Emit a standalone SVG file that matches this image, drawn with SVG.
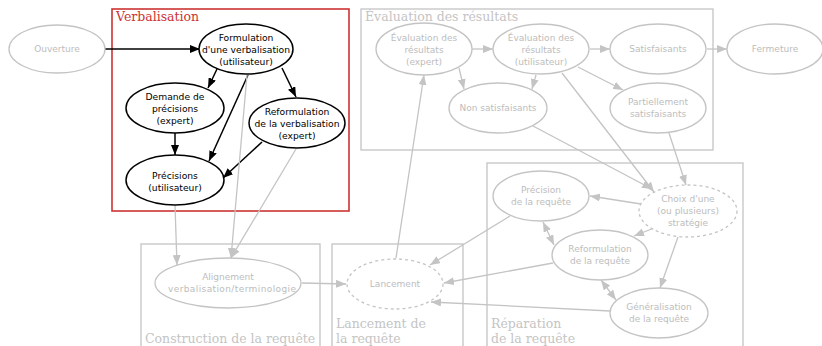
<svg xmlns="http://www.w3.org/2000/svg" width="822" height="346" viewBox="0 0 822 346">
<style>
.bg{fill:#ffffff}
.cl{fill:none;stroke:#c4c4c4;stroke-width:1.3}
.clr{fill:none;stroke:#cc3333;stroke-width:1.6}
.clt{font-family:"DejaVu Serif",serif;font-size:12.5px;fill:#c4c4c4}
.clrt{font-family:"DejaVu Serif",serif;font-size:12.5px;fill:#cc3333}
.nb ellipse{fill:#ffffff;stroke:#000000;stroke-width:1.5}
.nb text{font-family:"DejaVu Sans",sans-serif;font-size:9.2px;fill:#000000;text-anchor:middle}
.ng ellipse{fill:#ffffff;stroke:#c4c4c4;stroke-width:1.3}
.ng text{font-family:"DejaVu Sans",sans-serif;font-size:9px;fill:#bdbdbd;text-anchor:middle}
.dash ellipse{stroke-dasharray:3,3}
.eb{stroke:#000000;stroke-width:1.5;fill:none;marker-end:url(#ab)}
.eg{stroke:#c4c4c4;stroke-width:1.3;fill:none;marker-end:url(#ag)}
.eg2{stroke:#c4c4c4;stroke-width:1.3;fill:none;marker-end:url(#ag);marker-start:url(#ag)}
</style>
<defs>
<marker id="ab" markerUnits="userSpaceOnUse" markerWidth="10" markerHeight="8" refX="10" refY="4" orient="auto-start-reverse"><path d="M0,0 L10,4 L0,8 z" fill="#000000"/></marker>
<marker id="ag" markerUnits="userSpaceOnUse" markerWidth="10" markerHeight="8" refX="10" refY="4" orient="auto-start-reverse"><path d="M0,0 L10,4 L0,8 z" fill="#c4c4c4"/></marker>
</defs>
<rect class="bg" x="0" y="0" width="822" height="346"/>
<g id="clusters">
<rect class="clr" x="112" y="9" width="237" height="202"/>
<text class="clrt" x="116" y="21">Verbalisation</text>
<rect class="cl" x="361" y="9" width="352" height="141"/>
<text class="clt" x="365" y="21">Évaluation des résultats</text>
<rect class="cl" x="487" y="163" width="256" height="190"/>
<text class="clt" x="491" y="328">Réparation</text>
<text class="clt" x="491" y="343">de la requête</text>
<rect class="cl" x="141" y="244" width="179" height="110"/>
<text class="clt" x="145" y="343">Construction de la requête</text>
<rect class="cl" x="332" y="244" width="131" height="110"/>
<text class="clt" x="336" y="328">Lancement de</text>
<text class="clt" x="336" y="343">la requête</text>
</g>
<g id="connectors">
<line class="eb" x1="105" y1="49" x2="200" y2="49"/>
<line class="eb" x1="217" y1="69" x2="208" y2="88"/>
<line class="eb" x1="282" y1="68" x2="296" y2="97"/>
<line class="eb" x1="248" y1="75" x2="209" y2="161"/>
<line class="eb" x1="175" y1="133" x2="175" y2="155"/>
<line class="eb" x1="262" y1="142" x2="223" y2="178"/>
<line class="eg" x1="175" y1="205" x2="177" y2="265"/>
<line class="eg" x1="247" y1="75" x2="231" y2="258"/>
<line class="eg" x1="296" y1="149" x2="231" y2="258"/>
<line class="eg" x1="302" y1="283" x2="346" y2="284"/>
<line class="eg" x1="396" y1="258" x2="424" y2="75"/>
<line class="eg" x1="472" y1="49" x2="493" y2="49"/>
<line class="eg" x1="459" y1="68" x2="464" y2="89"/>
<line class="eg" x1="590" y1="49" x2="610" y2="49"/>
<line class="eg" x1="536" y1="75" x2="532" y2="89"/>
<line class="eg" x1="578" y1="67" x2="623" y2="90"/>
<line class="eg" x1="707" y1="49" x2="727" y2="49"/>
<line class="eg" x1="562" y1="73" x2="654" y2="192"/>
<line class="eg" x1="533" y1="126" x2="652" y2="189"/>
<line class="eg" x1="669" y1="133" x2="686" y2="185"/>
<line class="eg" x1="641" y1="204" x2="590" y2="196"/>
<line class="eg" x1="654" y1="228" x2="634" y2="236"/>
<line class="eg" x1="678" y1="237" x2="660" y2="288"/>
<line class="eg2" x1="543" y1="222" x2="554" y2="245"/>
<line class="eg2" x1="601" y1="280" x2="616" y2="300"/>
<line class="eg" x1="510" y1="216" x2="430" y2="265"/>
<line class="eg" x1="553" y1="263" x2="444" y2="283"/>
<line class="eg" x1="610" y1="311" x2="431" y2="302"/>
</g>
<g id="ouverture" class="ng"><ellipse cx="57" cy="49" rx="48" ry="24"/><text x="57" y="52">Ouverture</text></g>
<g id="formulation" class="nb"><ellipse cx="246" cy="49" rx="47" ry="25"/><text x="246" y="41">Formulation</text><text x="246" y="53">d'une verbalisation</text><text x="246" y="65">(utilisateur)</text></g>
<g id="demande" class="nb"><ellipse cx="175" cy="108" rx="49" ry="25"/><text x="175" y="100">Demande de</text><text x="175" y="112">précisions</text><text x="175" y="124">(expert)</text></g>
<g id="reformulation-verb" class="nb"><ellipse cx="297" cy="123" rx="48" ry="25"/><text x="297" y="115">Reformulation</text><text x="297" y="127">de la verbalisation</text><text x="297" y="139">(expert)</text></g>
<g id="precisions" class="nb"><ellipse cx="175" cy="180" rx="49" ry="25"/><text x="175" y="179">Précisions</text><text x="175" y="191">(utilisateur)</text></g>
<g id="eval-expert" class="ng"><ellipse cx="424" cy="49" rx="48" ry="26"/><text x="424" y="41">Évaluation des</text><text x="424" y="53">résultats</text><text x="424" y="65">(expert)</text></g>
<g id="eval-utilisateur" class="ng"><ellipse cx="541" cy="49" rx="48" ry="25"/><text x="541" y="41">Évaluation des</text><text x="541" y="53">résultats</text><text x="541" y="65">(utilisateur)</text></g>
<g id="satisfaisants" class="ng"><ellipse cx="658" cy="49" rx="48" ry="25"/><text x="658" y="52">Satisfaisants</text></g>
<g id="fermeture" class="ng"><ellipse cx="775" cy="49" rx="48" ry="25"/><text x="775" y="52">Fermeture</text></g>
<g id="non-satisfaisants" class="ng"><ellipse cx="498" cy="108" rx="49" ry="25"/><text x="498" y="111">Non satisfaisants</text></g>
<g id="partiellement" class="ng"><ellipse cx="658" cy="108" rx="48" ry="25"/><text x="658" y="105">Partiellement</text><text x="658" y="117">satisfaisants</text></g>
<g id="precision-requete" class="ng"><ellipse cx="541" cy="196" rx="48" ry="25"/><text x="541" y="193">Précision</text><text x="541" y="205">de la requête</text></g>
<g id="choix" class="ng dash"><ellipse cx="688" cy="211" rx="49" ry="26"/><text x="688" y="202">Choix d'une</text><text x="688" y="214">(ou plusieurs)</text><text x="688" y="226">stratégie</text></g>
<g id="reformulation-requete" class="ng"><ellipse cx="600" cy="255" rx="48" ry="25"/><text x="600" y="252">Reformulation</text><text x="600" y="264">de la requête</text></g>
<g id="generalisation" class="ng"><ellipse cx="659" cy="313" rx="49" ry="25"/><text x="659" y="310">Généralisation</text><text x="659" y="322">de la requête</text></g>
<g id="alignement" class="ng"><ellipse cx="228" cy="283" rx="73" ry="25"/><text x="228" y="280">Alignement</text><text x="232" y="292" textLength="128" lengthAdjust="spacing">verbalisation/terminologie</text></g>
<g id="lancement" class="ng dash"><ellipse cx="395" cy="284" rx="48" ry="25"/><text x="395" y="287">Lancement</text></g>
</svg>
